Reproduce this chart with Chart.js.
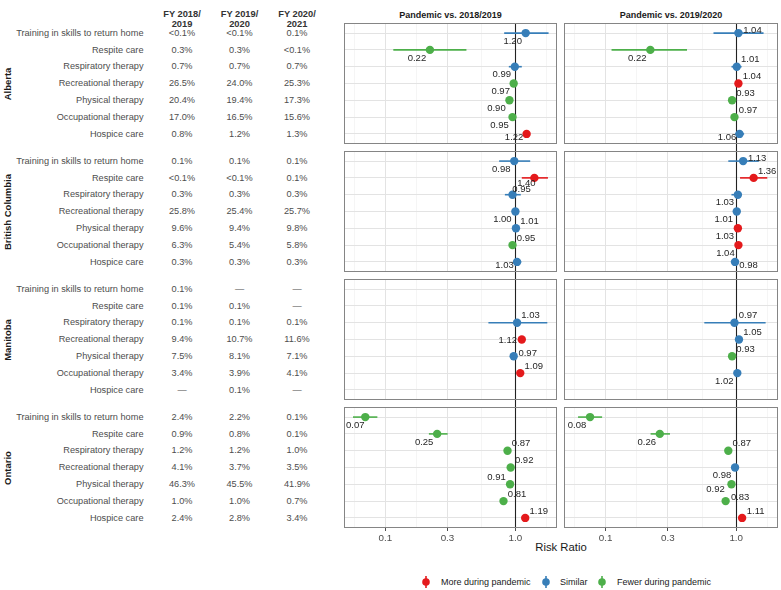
<!DOCTYPE html>
<html><head><meta charset="utf-8">
<script src="https://cdn.jsdelivr.net/npm/chart.js@4.4.0/dist/chart.umd.min.js"></script>
<style>
html,body{margin:0;padding:0;background:#fff;}
#wrap{position:relative;width:781px;height:590px;overflow:hidden;font-family:"Liberation Sans",Arial,Helvetica,sans-serif;}
.t{position:absolute;white-space:nowrap;line-height:1;}
.c{transform:translate(-50%,-50%);}
.r{transform:translate(-100%,-50%);}
.l{transform:translate(0,-50%);}
canvas{position:absolute;}
</style></head><body><div id="wrap"></div>
<script>
// ---------------- DATA ----------------
const activities = ['Training in skills to return home','Respite care','Respiratory therapy','Recreational therapy','Physical therapy','Occupational therapy','Hospice care'];
const provinces = ['Alberta','British Columbia','Manitoba','Ontario'];
const fiscalYears = [['FY 2018/','2019'],['FY 2019/','2020'],['FY 2020/','2021']];
const comparisons = ['Pandemic vs. 2018/2019','Pandemic vs. 2019/2020'];
const xTickValues = [0.1, 0.3, 1];
const xTickLabels = ['0.1','0.3','1.0'];
const legendLabels = ['More during pandemic','Similar','Fewer during pandemic'];
const legendKeys = ['more','similar','fewer'];

// table percentages: [FY2018/19, FY2019/20, FY2020/21] per activity row
const albertaPct = [['<0.1%','<0.1%','0.1%'],['0.3%','0.3%','<0.1%'],['0.7%','0.7%','0.7%'],['26.5%','24.0%','25.3%'],['20.4%','19.4%','17.3%'],['17.0%','16.5%','15.6%'],['0.8%','1.2%','1.3%']];
const bcPct = [['0.1%','0.1%','0.1%'],['<0.1%','<0.1%','0.1%'],['0.3%','0.3%','0.3%'],['25.8%','25.4%','25.7%'],['9.6%','9.4%','9.8%'],['6.3%','5.4%','5.8%'],['0.3%','0.3%','0.3%']];
const manitobaPct = [['0.1%','—','—'],['0.1%','0.1%','—'],['0.1%','0.1%','0.1%'],['9.4%','10.7%','11.6%'],['7.5%','8.1%','7.1%'],['3.4%','3.9%','4.1%'],['—','0.1%','—']];
const ontarioPct = [['2.4%','2.2%','0.1%'],['0.9%','0.8%','0.1%'],['1.2%','1.2%','1.0%'],['4.1%','3.7%','3.5%'],['46.3%','45.5%','41.9%'],['1.0%','1.0%','0.7%'],['2.4%','2.8%','3.4%']];

// risk ratio rows: [RR, CI low, CI high, direction]
const alberta1819 = [[1.20,0.82,1.80,'similar'],[0.22,0.115,0.42,'fewer'],[0.99,0.89,1.12,'similar'],[0.97,0.945,0.995,'fewer'],[0.90,0.875,0.925,'fewer'],[0.95,0.925,0.975,'fewer'],[1.22,1.17,1.27,'more']];
const alberta1920 = [[1.04,0.67,1.62,'similar'],[0.22,0.111,0.42,'fewer'],[1.01,0.92,1.10,'similar'],[1.04,1.015,1.065,'more'],[0.93,0.905,0.955,'fewer'],[0.97,0.945,0.995,'fewer'],[1.06,0.98,1.15,'similar']];
const bc1819 = [[0.98,0.75,1.30,'similar'],[1.40,1.12,1.78,'more'],[0.95,0.83,1.10,'similar'],[1.00,0.97,1.03,'similar'],[1.01,0.98,1.04,'similar'],[0.95,0.925,0.975,'fewer'],[1.03,0.96,1.11,'similar']];
const bc1920 = [[1.13,0.87,1.49,'similar'],[1.36,1.07,1.73,'more'],[1.03,0.92,1.10,'similar'],[1.01,0.98,1.04,'similar'],[1.03,1.01,1.05,'more'],[1.04,1.02,1.06,'more'],[0.98,0.91,1.05,'similar']];
const manitoba1819 = [null,null,[1.03,0.62,1.76,'similar'],[1.12,1.08,1.16,'more'],[0.97,0.93,1.01,'similar'],[1.09,1.05,1.13,'more'],null];
const manitoba1920 = [null,null,[0.97,0.57,1.68,'similar'],[1.05,1.01,1.09,'similar'],[0.93,0.90,0.96,'fewer'],[1.02,0.96,1.08,'similar'],null];
const ontario1819 = [[0.070,0.0563,0.0867,'fewer'],[0.25,0.216,0.301,'fewer'],[0.87,0.85,0.89,'fewer'],[0.92,0.90,0.94,'fewer'],[0.91,0.895,0.925,'fewer'],[0.81,0.785,0.835,'fewer'],[1.19,1.16,1.22,'more']];
const ontario1920 = [[0.076,0.0615,0.094,'fewer'],[0.26,0.221,0.311,'fewer'],[0.87,0.85,0.89,'fewer'],[0.98,0.96,1.00,'similar'],[0.92,0.905,0.935,'fewer'],[0.83,0.805,0.855,'fewer'],[1.11,1.08,1.14,'more']];

// ---------------- STYLE / LAYOUT ----------------
const pctTables = [albertaPct, bcPct, manitobaPct, ontarioPct];
const panelData = [[alberta1819, alberta1920],[bc1819, bc1920],[manitoba1819, manitoba1920],[ontario1819, ontario1920]];
const COLORS = {more:'#E41A1C', similar:'#377EB8', fewer:'#4DAF4A'};
const NUDGE = {BL:[-13,8], AR:[13.5,-7], L:[-12.5,3.5], R:[14,-3], RB:[13.5,3.5], AL:[-13.5,-7], L0:[-14,0.5]};
const labelPlacement = [
  [['BL','BL','BL','BL','BL','BL','L'], ['R','BL','AR','AR','AR','AR','L']],
  [['BL',[-8,5.5],[9,-5],'BL','AR','AR','L'], ['R','AR','BL','BL','BL','BL','RB']],
  [[null,null,'AR','L0','R','AR',null], [null,null,'AR','AR','AR','BL',null]],
  [[[-10,8.5],'BL','AR','AR','AL','AR','AR'], ['BL','BL','AR','BL',[-16,5],[14.5,-3.3],'AR']]
];
const PANEL_TOPS = [23,151,279,407];
const PANEL_H = 121;
const COL_LEFT = [344,564];
const COL_RIGHT = [557,778];
const X_MIN = 0.048, X_MAX = 2.09;
const MINOR_X = [0.0577, 0.1732, 0.5477, 1.732];
const FONT = '"Liberation Sans", Arial, Helvetica, sans-serif';

const wrap = document.getElementById('wrap');
function txt(s, x, y, cls, style){
  const d = document.createElement('div');
  d.className = 't ' + cls;
  d.textContent = s;
  d.style.left = x + 'px'; d.style.top = y + 'px';
  Object.assign(d.style, style || {});
  wrap.appendChild(d);
  return d;
}
function rowY(r, i){ return PANEL_TOPS[r] + (i + 1 - 0.4) * PANEL_H / 7.2; }

// table headers
const colX = [182, 239.5, 297];
fiscalYears.forEach((fy, k) => {
  txt(fy[0], colX[k], 14.5, 'c', {fontSize:'9.3px', fontWeight:'bold', color:'#333'});
  txt(fy[1], colX[k], 25.3, 'c', {fontSize:'9.3px', fontWeight:'bold', color:'#333'});
});
// table body + province labels
provinces.forEach((p, r) => {
  const pv = txt(p, 8, PANEL_TOPS[r] + PANEL_H/2, '', {fontSize:'9.5px', fontWeight:'bold', color:'#1a1a1a'});
  pv.style.transform = 'translate(-50%,-50%) rotate(-90deg)';
  activities.forEach((a, i) => {
    const y = rowY(r, i) + 0.8;
    txt(a, 143.5, y, 'r', {fontSize:'9.2px', color:'#4d4d4d'});
    pctTables[r][i].forEach((v, k) => txt(v, colX[k], y, 'c', {fontSize:'9.2px', color:'#4d4d4d'}));
  });
});
// strip titles
comparisons.forEach((cmp, c) => txt(cmp, (COL_LEFT[c] + COL_RIGHT[c]) / 2, 15, 'c', {fontSize:'9px', fontWeight:'bold', color:'#1a1a1a'}));
// axis title
txt('Risk Ratio', 561, 548, 'c', {fontSize:'11.3px', color:'#1a1a1a'});
// legend
const legGlyphX = [425.7, 545.7, 602.3];
const legTextX = [441, 560, 617];
legendKeys.forEach((k, j) => {
  const s = document.createElementNS('http://www.w3.org/2000/svg','svg');
  s.setAttribute('width','16'); s.setAttribute('height','16');
  s.style.position='absolute'; s.style.left=(legGlyphX[j]-8)+'px'; s.style.top=(581.7-8)+'px';
  s.innerHTML = '<line x1="8" y1="2" x2="8" y2="14" stroke="'+COLORS[k]+'" stroke-width="1.6"/><circle cx="8" cy="8" r="3.8" fill="'+COLORS[k]+'"/>';
  wrap.appendChild(s);
  txt(legendLabels[j], legTextX[j], 581.7, 'l', {fontSize:'9px', color:'#1a1a1a'});
});

// ---------------- CHARTS ----------------
const panelPlugin = {
  id: 'panelDecor',
  beforeDatasetsDraw(chart, args, opts) {
    const {ctx, chartArea} = chart;
    const x = Math.round(chart.scales.x.getPixelForValue(1)) + 0.5;
    ctx.save();
    ctx.strokeStyle = '#222'; ctx.lineWidth = 1.1;
    ctx.beginPath();
    ctx.moveTo(x, chartArea.top - opts.extTop);
    ctx.lineTo(x, chartArea.bottom + opts.extBottom);
    ctx.stroke();
    ctx.restore();
  },
  afterDatasetsDraw(chart, args, opts) {
    const {ctx} = chart;
    const xs = chart.scales.x, ys = chart.scales.y;
    ctx.save();
    ctx.font = '9.5px ' + FONT;
    ctx.fillStyle = '#262626';
    ctx.textAlign = 'center'; ctx.textBaseline = 'middle';
    opts.rows.forEach((row, i) => {
      if (!row) return;
      const pl = opts.place[i];
      const nd = Array.isArray(pl) ? pl : NUDGE[pl];
      ctx.fillText(row[0].toFixed(2), xs.getPixelForValue(row[0]) + nd[0], ys.getPixelForValue(i + 1) + nd[1]);
    });
    ctx.restore();
  },
  afterDraw(chart) {
    const {ctx, chartArea:a} = chart;
    ctx.save();
    ctx.strokeStyle = '#858585'; ctx.lineWidth = 1;
    ctx.strokeRect(Math.round(a.left) + 0.5, Math.round(a.top) + 0.5, Math.round(a.right - a.left) - 1, Math.round(a.bottom - a.top) - 1);
    ctx.restore();
  }
};

const gridX = MINOR_X.concat(xTickValues).sort((a,b)=>a-b);
const isMajor = v => xTickValues.indexOf(v) >= 0;

provinces.forEach((p, r) => {
  [0,1].forEach(c => {
    const rows = panelData[r][c];
    const isBottom = r === 3;
    const padTop = r === 0 ? 0 : 4;
    const padBottom = isBottom ? 0 : 3;
    const axisH = isBottom ? 17 : 0;
    const cv = document.createElement('canvas');
    const left = COL_LEFT[c] - 1;
    const width = COL_RIGHT[c] - COL_LEFT[c] + 3;
    const height = PANEL_H + padTop + padBottom + axisH;
    cv.width = width; cv.height = height;
    cv.style.left = left + 'px'; cv.style.top = (PANEL_TOPS[r] - padTop) + 'px';
    cv.style.width = width + 'px'; cv.style.height = height + 'px';
    wrap.appendChild(cv);

    const datasets = [];
    rows.forEach((row, i) => {
      if (!row) return;
      datasets.push({
        data: [{x: row[1], y: i + 1}, {x: row[2], y: i + 1}],
        showLine: true, borderColor: COLORS[row[3]], borderWidth: 1.6,
        pointRadius: 0, pointHoverRadius: 0, fill: false
      });
    });
    const pts = [], ptColors = [];
    rows.forEach((row, i) => { if (row) { pts.push({x: row[0], y: i + 1}); ptColors.push(COLORS[row[3]]); } });
    datasets.push({ data: pts, backgroundColor: ptColors, borderColor: ptColors, borderWidth: 0, pointRadius: 4.2, showLine: false });

    new Chart(cv, {
      type: 'scatter',
      data: { datasets },
      options: {
        responsive: false, animation: false, devicePixelRatio: 1,
        layout: { autoPadding: false, padding: { left: 1, right: 2, top: padTop, bottom: padBottom } },
        plugins: {
          legend: { display: false }, tooltip: { enabled: false },
          panelDecor: { rows, place: labelPlacement[r][c], extTop: padTop, extBottom: isBottom ? 0 : padBottom }
        },
        scales: {
          x: {
            type: 'logarithmic', min: X_MIN, max: X_MAX,
            afterBuildTicks: s => { s.ticks = gridX.map(v => ({value: v})); },
            afterFit: s => { s.height = axisH; },
            border: { display: false },
            grid: {
              color: ctx => (ctx.tick && isMajor(ctx.tick.value)) ? '#e3e3e3' : '#f1f1f1',
              lineWidth: ctx => (ctx.tick && isMajor(ctx.tick.value)) ? 1 : 0.7,
              drawTicks: isBottom, tickLength: 3,
              tickColor: ctx => (ctx.tick && isMajor(ctx.tick.value)) ? '#4d4d4d' : 'rgba(0,0,0,0)'
            },
            ticks: {
              display: isBottom, autoSkip: false, maxRotation: 0, minRotation: 0, padding: 1,
              color: '#4d4d4d', font: { size: 9.8, family: FONT },
              callback: v => { const k = xTickValues.indexOf(v); return k >= 0 ? xTickLabels[k] : ''; }
            }
          },
          y: {
            type: 'linear', min: 0.4, max: 7.6, reverse: true,
            afterBuildTicks: s => { s.ticks = activities.map((a, i) => ({value: i + 1})); },
            afterFit: s => { s.width = 0; },
            border: { display: false },
            grid: { color: '#e3e3e3', lineWidth: 1, drawTicks: false },
            ticks: { display: false }
          }
        }
      },
      plugins: [panelPlugin]
    });
  });
});
</script>
</body></html>
